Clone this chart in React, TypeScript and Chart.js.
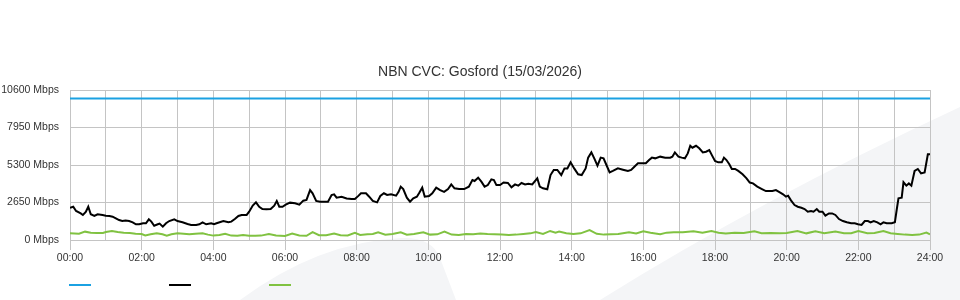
import React, { useEffect, useRef } from 'react';
import { Chart, registerables } from 'chart.js';

Chart.register(...registerables);

const chartTitle = 'NBN CVC: Gosford (15/03/2026)';
const yMax = 10600;
const yStep = 2650;
const xMaxHours = 24;

const capacityHours = [0, 24];
const capacityMbps = [10000, 10000];

const trafficHours = [
  0.0, 0.09, 0.17, 0.3, 0.36, 0.44, 0.51, 0.58, 0.68, 0.77, 0.91, 1.0, 1.1, 1.19, 1.28, 1.37, 1.46, 1.55, 1.65, 1.75,
  1.84, 1.93, 2.04, 2.12, 2.2, 2.27, 2.35, 2.45, 2.5, 2.59, 2.68, 2.77, 2.91, 3.0, 3.14, 3.28, 3.38, 3.52, 3.61, 3.7,
  3.8, 3.94, 4.02, 4.09, 4.28, 4.42, 4.5, 4.6, 4.7, 4.79, 4.93, 5.0, 5.1, 5.19, 5.28, 5.37, 5.48, 5.6, 5.7, 5.77,
  5.84, 5.93, 6.02, 6.14, 6.28, 6.4, 6.51, 6.6, 6.7, 6.77, 6.87, 6.98, 7.12, 7.2, 7.3, 7.37, 7.44, 7.58, 7.72, 7.86,
  7.95, 8.04, 8.12, 8.26, 8.35, 8.45, 8.57, 8.66, 8.76, 8.85, 8.96, 9.1, 9.17, 9.23, 9.3, 9.4, 9.49, 9.58, 9.68, 9.74,
  9.83, 9.9, 10.02, 10.11, 10.22, 10.33, 10.44, 10.55, 10.64, 10.73, 10.86, 11.0, 11.13, 11.23, 11.29, 11.39, 11.48, 11.57, 11.66, 11.76,
  11.83, 11.9, 12.0, 12.1, 12.22, 12.32, 12.42, 12.51, 12.6, 12.7, 12.79, 12.9, 13.04, 13.11, 13.2, 13.32, 13.41, 13.5, 13.6, 13.71,
  13.8, 13.88, 13.97, 14.07, 14.18, 14.28, 14.39, 14.46, 14.55, 14.64, 14.72, 14.81, 14.89, 14.97, 15.06, 15.15, 15.29, 15.43, 15.57, 15.66,
  15.75, 15.85, 15.96, 16.07, 16.16, 16.24, 16.33, 16.47, 16.61, 16.75, 16.81, 16.88, 16.98, 17.07, 17.16, 17.24, 17.31, 17.37, 17.47, 17.56,
  17.66, 17.75, 17.84, 17.92, 18.0, 18.09, 18.19, 18.25, 18.32, 18.4, 18.47, 18.56, 18.65, 18.77, 18.88, 18.97, 19.06, 19.18, 19.31, 19.42,
  19.51, 19.6, 19.7, 19.81, 19.9, 19.98, 20.04, 20.12, 20.22, 20.31, 20.41, 20.5, 20.59, 20.68, 20.75, 20.84, 20.91, 21.0, 21.08, 21.18,
  21.27, 21.36, 21.46, 21.57, 21.68, 21.8, 21.9, 21.99, 22.09, 22.18, 22.27, 22.34, 22.43, 22.53, 22.62, 22.7, 22.79, 22.93, 23.02, 23.07,
  23.12, 23.21, 23.26, 23.34, 23.41, 23.48, 23.57, 23.66, 23.75, 23.85, 23.94, 24.0,
];
const trafficMbps = [
  2280, 2350, 2050, 1880, 1770, 1980, 2350, 1820, 1700, 1820, 1770, 1720, 1700, 1650, 1530, 1410, 1340, 1370, 1340, 1250,
  1110, 1110, 1180, 1180, 1460, 1300, 1010, 1110, 1160, 940, 1180, 1340, 1460, 1340, 1250, 1130, 1060, 1060, 1110, 1250,
  1110, 1180, 1110, 1180, 1340, 1250, 1300, 1480, 1700, 1770, 1770, 2000, 2430, 2660, 2350, 2190, 2170, 2190, 2430, 2760,
  2350, 2350, 2500, 2640, 2590, 2500, 2780, 2830, 3530, 3300, 2760, 2710, 2710, 2710, 3180, 3230, 2990, 3060, 2940, 2900,
  2900, 3100, 3300, 3300, 3060, 2760, 2660, 3110, 3300, 3180, 3230, 3130, 3400, 3770, 3600, 2990, 2710, 2940, 3060, 3300,
  3700, 3060, 3110, 3300, 3700, 3530, 3400, 3600, 3930, 3650, 3600, 3600, 3770, 4240, 4170, 4400, 4120, 3770, 3880, 4290,
  4240, 3880, 3880, 4060, 4030, 3720, 3930, 3840, 4030, 3930, 3980, 3930, 4360, 3770, 3650, 3580, 4590, 4950, 4950, 4590,
  5060, 5060, 5490, 5060, 4640, 4590, 5060, 5820, 6190, 5720, 5250, 5820, 5770, 5300, 4780, 4880, 5060, 4970, 4880, 4950,
  5180, 5420, 5420, 5420, 5650, 5820, 5770, 5890, 5820, 5820, 5890, 6190, 5890, 5820, 5770, 6120, 6660, 6520, 6660, 6480,
  6190, 6240, 6360, 5960, 5580, 5490, 5490, 5820, 5650, 5350, 5020, 5020, 4880, 4640, 4360, 4060, 4000, 3770, 3600, 3460,
  3460, 3460, 3530, 3370, 3230, 3060, 3130, 2800, 2470, 2350, 2280, 2190, 2000, 2050, 2000, 2190, 2000, 2000, 1720, 1880,
  1880, 1770, 1480, 1340, 1250, 1180, 1180, 1110, 1060, 1340, 1340, 1250, 1340, 1250, 1110, 1250, 1180, 1180, 1250, 2120,
  2940, 2990, 4080, 3840, 4000, 3840, 4880, 5020, 4710, 4780, 6060, 6060,
];

const uploadHours = [
  0.0, 0.25, 0.42, 0.58, 0.75, 0.92, 1.0, 1.17, 1.33, 1.5, 1.67, 1.83, 2.0, 2.1, 2.25, 2.42, 2.58, 2.7, 2.83, 3.0,
  3.17, 3.33, 3.5, 3.7, 3.85, 4.0, 4.17, 4.33, 4.5, 4.67, 4.83, 5.0, 5.17, 5.33, 5.55, 5.75, 6.0, 6.2, 6.4, 6.6,
  6.77, 6.95, 7.15, 7.37, 7.55, 7.75, 7.95, 8.1, 8.3, 8.45, 8.6, 8.8, 9.0, 9.23, 9.4, 9.6, 9.86, 10.05, 10.25, 10.45,
  10.65, 10.85, 11.05, 11.25, 11.45, 11.65, 11.85, 12.05, 12.25, 12.45, 12.65, 12.85, 13.0, 13.2, 13.4, 13.55, 13.65, 13.85, 14.05, 14.25,
  14.5, 14.7, 14.9, 15.1, 15.3, 15.6, 15.8, 16.0, 16.2, 16.47, 16.65, 16.85, 17.1, 17.4, 17.65, 17.9, 18.1, 18.3, 18.55, 18.8,
  19.1, 19.3, 19.55, 19.8, 20.0, 20.3, 20.55, 20.8, 21.05, 21.36, 21.6, 21.8, 22.0, 22.25, 22.45, 22.7, 22.9, 23.1, 23.3, 23.5,
  23.7, 23.9, 24.0,
];
const uploadMbps = [
  470, 450, 590, 520, 500, 490, 560, 640, 560, 520, 500, 450, 420, 320, 400, 480, 400, 310, 400, 470,
  440, 400, 450, 470, 380, 310, 350, 440, 310, 300, 350, 300, 300, 310, 430, 320, 290, 450, 320, 300,
  560, 340, 330, 450, 330, 320, 500, 360, 400, 420, 540, 380, 420, 550, 380, 420, 550, 380, 400, 590,
  380, 360, 420, 410, 460, 420, 400, 380, 360, 380, 420, 470, 560, 430, 640, 520, 600, 480, 430, 470,
  700, 440, 380, 400, 420, 550, 460, 620, 520, 410, 520, 540, 540, 620, 520, 630, 520, 460, 520, 490,
  610, 480, 500, 470, 500, 630, 470, 610, 480, 600, 480, 480, 630, 480, 500, 630, 480, 430, 380, 360,
  380, 520, 400,
];

const seriesColors = ['#1ba1e2', '#000000', '#80c241'];
const gridColor = '#c4c4c4';
const textColor = '#333333';
const fontFamily = '"Liberation Sans", Arial, sans-serif';

const toPoints = (xs: number[], ys: number[]) => xs.map((x, i) => ({ x, y: ys[i] }));

const watermarkPlugin = {
  id: 'watermark',
  beforeDraw(chart: any) {
    const ctx = chart.ctx;
    ctx.save();
    ctx.fillStyle = '#f4f5f7';
    ctx.beginPath();
    ctx.moveTo(240, 300);
    ctx.quadraticCurveTo(318, 242, 402, 238);
    ctx.quadraticCurveTo(432, 237, 440, 258);
    ctx.lineTo(456, 300);
    ctx.closePath();
    ctx.fill();
    ctx.beginPath();
    ctx.moveTo(600, 300);
    ctx.quadraticCurveTo(760, 200, 960, 107);
    ctx.lineTo(960, 300);
    ctx.closePath();
    ctx.fill();
    ctx.restore();
  },
};

const lineLegendPlugin = {
  id: 'lineLegend',
  afterDraw(chart: any) {
    const ctx = chart.ctx;
    const left = chart.chartArea.left;
    ctx.save();
    ctx.lineWidth = 2;
    chart.data.datasets.forEach((ds: any, i: number) => {
      ctx.strokeStyle = ds.borderColor;
      ctx.beginPath();
      ctx.moveTo(left - 1 + i * 100, 285);
      ctx.lineTo(left + 21 + i * 100, 285);
      ctx.stroke();
    });
    ctx.restore();
  },
};

export default function App() {
  const canvasRef = useRef<HTMLCanvasElement | null>(null);

  useEffect(() => {
    if (!canvasRef.current) return;
    const chart = new Chart(canvasRef.current, {
      type: 'line',
      data: {
        datasets: [
          {
            label: '',
            data: toPoints(capacityHours, capacityMbps),
            borderColor: seriesColors[0],
            backgroundColor: seriesColors[0],
            borderWidth: 2,
            pointRadius: 0,
            tension: 0,
          },
          {
            label: '',
            data: toPoints(trafficHours, trafficMbps),
            borderColor: seriesColors[1],
            backgroundColor: seriesColors[1],
            borderWidth: 2,
            pointRadius: 0,
            tension: 0,
          },
          {
            label: '',
            data: toPoints(uploadHours, uploadMbps),
            borderColor: seriesColors[2],
            backgroundColor: seriesColors[2],
            borderWidth: 2,
            pointRadius: 0,
            tension: 0,
          },
        ],
      },
      options: {
        animation: false,
        responsive: false,
        maintainAspectRatio: false,
        layout: { padding: { top: 0, right: 0, bottom: 0, left: 0 } },
        plugins: {
          legend: { display: false },
          tooltip: { enabled: false },
          title: {
            display: true,
            text: chartTitle,
            color: textColor,
            font: { family: fontFamily, size: 14, weight: 'normal' },
            padding: { top: 63.5, bottom: 9.7 },
          },
        },
        scales: {
          x: {
            type: 'linear',
            min: 0,
            max: xMaxHours,
            afterFit: (scale: any) => {
              scale.height = 60;
            },
            grid: {
              color: gridColor,
              lineWidth: 1,
              tickLength: 10,
              tickColor: (ctx: any) =>
                ctx.tick && ctx.tick.value % 2 === 0 ? gridColor : 'rgba(0,0,0,0)',
            },
            border: { color: gridColor },
            ticks: {
              stepSize: 1,
              autoSkip: false,
              maxRotation: 0,
              padding: 2,
              color: textColor,
              font: { family: fontFamily, size: 10.5 },
              callback: (v: any) =>
                Number(v) % 2 === 0 ? String(v).padStart(2, '0') + ':00' : '',
            },
          },
          y: {
            min: 0,
            max: yMax,
            afterFit: (scale: any) => {
              scale.width = 70;
            },
            grid: { color: gridColor, lineWidth: 1, drawTicks: false },
            border: { color: gridColor },
            ticks: {
              stepSize: yStep,
              padding: 11,
              color: textColor,
              font: { family: fontFamily, size: 10.5 },
              callback: (v: any) => v + ' Mbps',
            },
          },
          yRightSpace: {
            position: 'right',
            display: true,
            afterFit: (scale: any) => {
              scale.width = 30;
            },
            grid: { display: false, drawTicks: false },
            border: { display: false },
            ticks: { display: false },
          },
        },
      },
      plugins: [watermarkPlugin, lineLegendPlugin],
    });
    return () => chart.destroy();
  }, []);

  return (
    <div style={{ position: 'fixed', left: 0, top: 0, width: 960, height: 300, background: '#ffffff' }}>
      <canvas ref={canvasRef} width={960} height={300} />
    </div>
  );
}
